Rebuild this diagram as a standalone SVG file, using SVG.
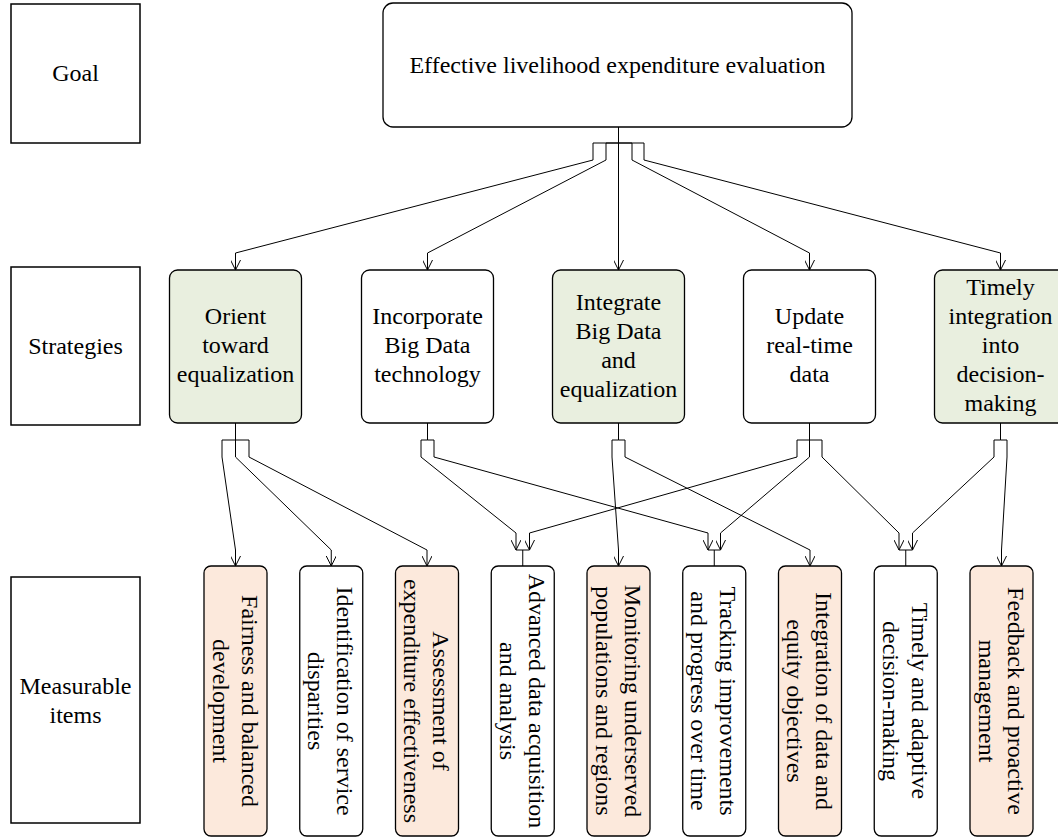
<svg xmlns="http://www.w3.org/2000/svg" width="1058" height="838" viewBox="0 0 1058 838">
<style>
text{font-family:"Liberation Serif","Times New Roman",serif;font-size:24px;fill:#000;text-anchor:middle}
.lbl{fill:#fff;stroke:#000;stroke-width:1.5}
.nd{stroke:#000;stroke-width:1.3}
.w{fill:#fff}
.g{fill:#E9EFDF}
.p{fill:#FCE9DC}
.c path{fill:none;stroke:#000;stroke-width:1}
</style>
<defs>
<marker id="arr" viewBox="0 0 10 10" refX="10" refY="5" markerWidth="10" markerHeight="10" orient="auto" markerUnits="userSpaceOnUse">
<path d="M0,0 L10,5 L0,10" fill="none" stroke="#000" stroke-width="1"/>
</marker>
</defs>
<rect width="1058" height="838" fill="#fff"/>

<g id="label-goal"><rect class="lbl" x="11" y="4" width="129" height="139"/><text x="75.5" y="81">Goal</text></g>
<g id="label-strategies"><rect class="lbl" x="11" y="267" width="129" height="158"/><text x="75.5" y="354">Strategies</text></g>
<g id="label-measurable"><rect class="lbl" x="11" y="577" width="129" height="246"/><text x="75.5" y="694">Measurable</text><text x="75.5" y="723">items</text></g>

<g id="goal"><rect class="nd w" x="383" y="3" width="469" height="124" rx="10"/><text x="617.5" y="73">Effective livelihood expenditure evaluation</text></g>

<g id="s1"><rect class="nd g" x="169.5" y="270" width="132" height="153" rx="8"/><text x="235.5" y="324">Orient</text><text x="235.5" y="353">toward</text><text x="235.5" y="382">equalization</text></g>
<g id="s2"><rect class="nd w" x="361.5" y="270" width="132" height="153" rx="8"/><text x="427.5" y="324">Incorporate</text><text x="427.5" y="353">Big Data</text><text x="427.5" y="382">technology</text></g>
<g id="s3"><rect class="nd g" x="552.5" y="270" width="132" height="153" rx="8"/><text x="618.5" y="310">Integrate</text><text x="618.5" y="339">Big Data</text><text x="618.5" y="368">and</text><text x="618.5" y="397">equalization</text></g>
<g id="s4"><rect class="nd w" x="743.5" y="270" width="132" height="153" rx="8"/><text x="809.5" y="324">Update</text><text x="809.5" y="353">real-time</text><text x="809.5" y="382">data</text></g>
<g id="s5"><rect class="nd g" x="934.5" y="270" width="132" height="153" rx="8"/><text x="1000.5" y="295">Timely</text><text x="1000.5" y="324">integration</text><text x="1000.5" y="353">into</text><text x="1000.5" y="382">decision-</text><text x="1000.5" y="411">making</text></g>

<g id="m1"><rect class="nd p" x="204" y="566" width="63" height="270" rx="7"/><text transform="translate(235.5,701) rotate(90)"><tspan x="0" y="-6">Fairness and balanced</tspan><tspan x="0" y="23">development</tspan></text></g>
<g id="m2"><rect class="nd w" x="299.75" y="566" width="63" height="270" rx="7"/><text transform="translate(331.25,701) rotate(90)"><tspan x="0" y="-6">Identification of service</tspan><tspan x="0" y="23">disparities</tspan></text></g>
<g id="m3"><rect class="nd p" x="395.5" y="566" width="63" height="270" rx="7"/><text transform="translate(427,701) rotate(90)"><tspan x="0" y="-6">Assessment of</tspan><tspan x="0" y="23">expenditure effectiveness</tspan></text></g>
<g id="m4"><rect class="nd w" x="491.25" y="566" width="63" height="270" rx="7"/><text transform="translate(522.75,701) rotate(90)"><tspan x="0" y="-6">Advanced data acquisition</tspan><tspan x="0" y="23">and analysis</tspan></text></g>
<g id="m5"><rect class="nd p" x="587" y="566" width="63" height="270" rx="7"/><text transform="translate(618.5,701) rotate(90)"><tspan x="0" y="-6">Monitoring underserved</tspan><tspan x="0" y="23">populations and regions</tspan></text></g>
<g id="m6"><rect class="nd w" x="682.75" y="566" width="63" height="270" rx="7"/><text transform="translate(714.25,701) rotate(90)"><tspan x="0" y="-6">Tracking improvements</tspan><tspan x="0" y="23">and progress over time</tspan></text></g>
<g id="m7"><rect class="nd p" x="778.5" y="566" width="63" height="270" rx="7"/><text transform="translate(810,701) rotate(90)"><tspan x="0" y="-6">Integration of data and</tspan><tspan x="0" y="23">equity objectives</tspan></text></g>
<g id="m8"><rect class="nd w" x="874.25" y="566" width="63" height="270" rx="7"/><text transform="translate(905.75,701) rotate(90)"><tspan x="0" y="-6">Timely and adaptive</tspan><tspan x="0" y="23">decision-making</tspan></text></g>
<g id="m9"><rect class="nd p" x="970" y="566" width="63" height="270" rx="7"/><text transform="translate(1001.5,701) rotate(90)"><tspan x="0" y="-6">Feedback and proactive</tspan><tspan x="0" y="23">management</tspan></text></g>

<g id="connectors" class="c">
<path marker-end="url(#arr)" d="M618.5,127 V143 H593 V160 L235.5,253 V270"/>
<path marker-end="url(#arr)" d="M618.5,127 V143 H606 V160 L427.5,253 V270"/>
<path marker-end="url(#arr)" d="M618.5,127 V270"/>
<path marker-end="url(#arr)" d="M618.5,127 V143 H632 V160 L809.5,253 V270"/>
<path marker-end="url(#arr)" d="M618.5,127 V143 H644 V160 L1000.5,253 V270"/>

<path marker-end="url(#arr)" d="M235.5,423 V440 H222 V457 L235.5,550 V566"/>
<path marker-end="url(#arr)" d="M235.5,423 V457 L331.25,550 V566"/>
<path marker-end="url(#arr)" d="M235.5,423 V440 H249 V457 L427,550 V566"/>

<path marker-end="url(#arr)" d="M427.5,423 V440 H421 V457 L516,533 V550"/>
<path marker-end="url(#arr)" d="M427.5,423 V440 H434 V457 L708,533 V550"/>

<path marker-end="url(#arr)" d="M618.5,423 V440 H612 V457 L618.5,550 V566"/>
<path marker-end="url(#arr)" d="M618.5,423 V440 H625 V457 L810,550 V566"/>

<path marker-end="url(#arr)" d="M809.5,423 V440 H797 V457 L529.5,533 V550"/>
<path marker-end="url(#arr)" d="M809.5,423 V457 L720.5,533 V550"/>
<path marker-end="url(#arr)" d="M809.5,423 V440 H822 V457 L899,533 V550"/>

<path marker-end="url(#arr)" d="M1000.5,423 V440 H994 V457 L912.5,533 V550"/>
<path marker-end="url(#arr)" d="M1000.5,423 V440 H1007 V457 L1001.5,550 V566"/>

<path d="M516,550 H529.5 M522.75,550 V566"/>
<path d="M708,550 H720.5 M714.25,550 V566"/>
<path d="M899,550 H912.5 M905.75,550 V566"/>
</g>
</svg>
